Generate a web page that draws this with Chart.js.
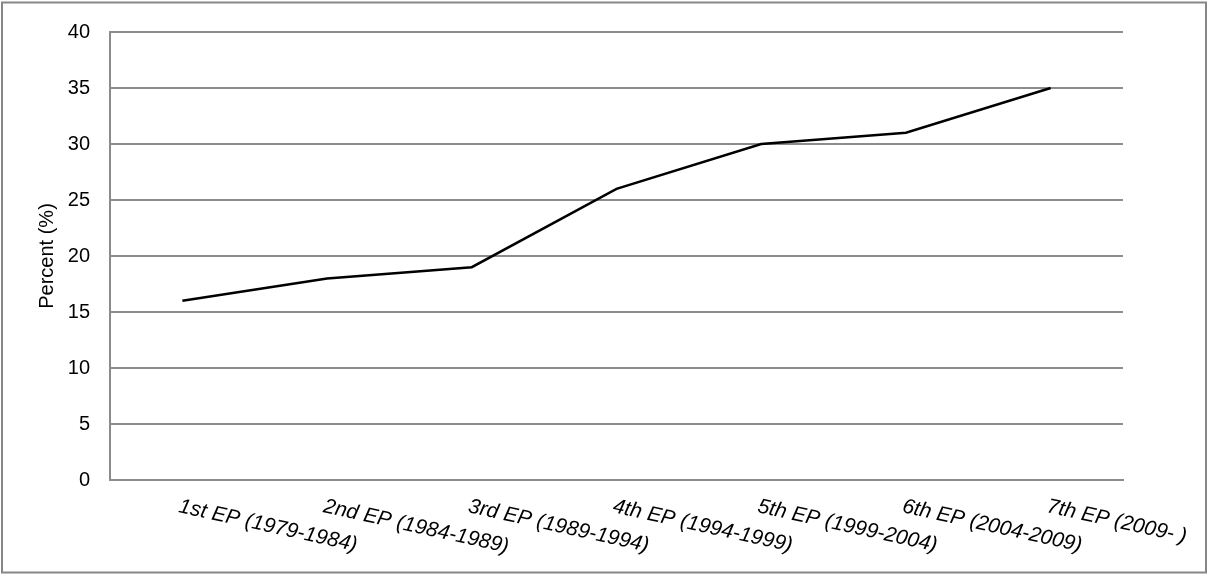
<!DOCTYPE html>
<html>
<head>
<meta charset="utf-8">
<script src="https://cdn.jsdelivr.net/npm/chart.js@4/dist/chart.umd.min.js"></script>
<style>
  html, body { margin: 0; padding: 0; background: #fff; }
  #wrap { width: 1210px; height: 574px; position: relative; }
</style>
</head>
<body>
<div id="wrap"><canvas id="c" width="1210" height="574"></canvas></div>
<script>
const categories = [
  "1st EP (1979-1984)",
  "2nd EP (1984-1989)",
  "3rd EP (1989-1994)",
  "4th EP (1994-1999)",
  "5th EP (1999-2004)",
  "6th EP (2004-2009)",
  "7th EP (2009- )"
];
const percentValues = [16, 18, 19, 26, 30, 31, 35];
const yTicks = [0, 5, 10, 15, 20, 25, 30, 35, 40];
const yTitle = "Percent (%)";

const FONT = "'Liberation Sans', Arial, Helvetica, sans-serif";
const GRID = "#8c8c8c";

const frame = {
  id: 'frame',
  afterDraw(chart) {
    const ctx = chart.ctx;
    ctx.save();
    ctx.strokeStyle = "#878787";
    ctx.lineWidth = 2;
    ctx.strokeRect(2, 2.5, 1204, 570);
    ctx.restore();
  }
};

const slantedLabels = {
  id: 'slantedLabels',
  afterDraw(chart) {
    const xs = chart.scales.x;
    const ctx = chart.ctx;
    ctx.save();
    ctx.font = "italic 21px " + FONT;
    ctx.fillStyle = "#000";
    ctx.textAlign = "left";
    ctx.textBaseline = "top";
    const ang = 12.5 * Math.PI / 180;
    categories.forEach((lab, i) => {
      const x = xs.getPixelForTick(i);
      ctx.save();
      ctx.translate(x - 1, xs.top + 16);
      ctx.rotate(ang);
      ctx.fillText(lab, 0, 0);
      ctx.restore();
    });
    ctx.restore();
  }
};

new Chart(document.getElementById('c'), {
  type: 'line',
  data: {
    labels: categories,
    datasets: [{
      data: percentValues,
      borderColor: '#000',
      borderWidth: 2.5,
      pointRadius: 0,
      tension: 0,
      fill: false
    }]
  },
  options: {
    responsive: false,
    animation: false,
    events: [],
    layout: { padding: { top: 32, right: 87, left: 0, bottom: 0 } },
    plugins: { legend: { display: false }, tooltip: { enabled: false } },
    scales: {
      x: {
        offset: true,
        grid: { display: false },
        border: { display: true, color: GRID, width: 2 },
        ticks: { display: false },
        afterFit(s) { s.height = 94; }
      },
      y: {
        min: 0,
        max: 40,
        afterBuildTicks(s) { s.ticks = yTicks.map(v => ({ value: v })); },
        grid: { color: GRID, lineWidth: 2, drawTicks: false },
        border: { display: true, color: GRID, width: 2 },
        ticks: {
          padding: 20,
          color: '#000',
          font: { family: FONT, size: 20 }
        },
        title: {
          display: true,
          text: yTitle,
          color: '#000',
          font: { family: FONT, size: 20 },
          padding: { top: 35, bottom: 0 }
        },
        afterFit(s) { s.width = 110; }
      }
    }
  },
  plugins: [frame, slantedLabels]
});
</script>
</body>
</html>
